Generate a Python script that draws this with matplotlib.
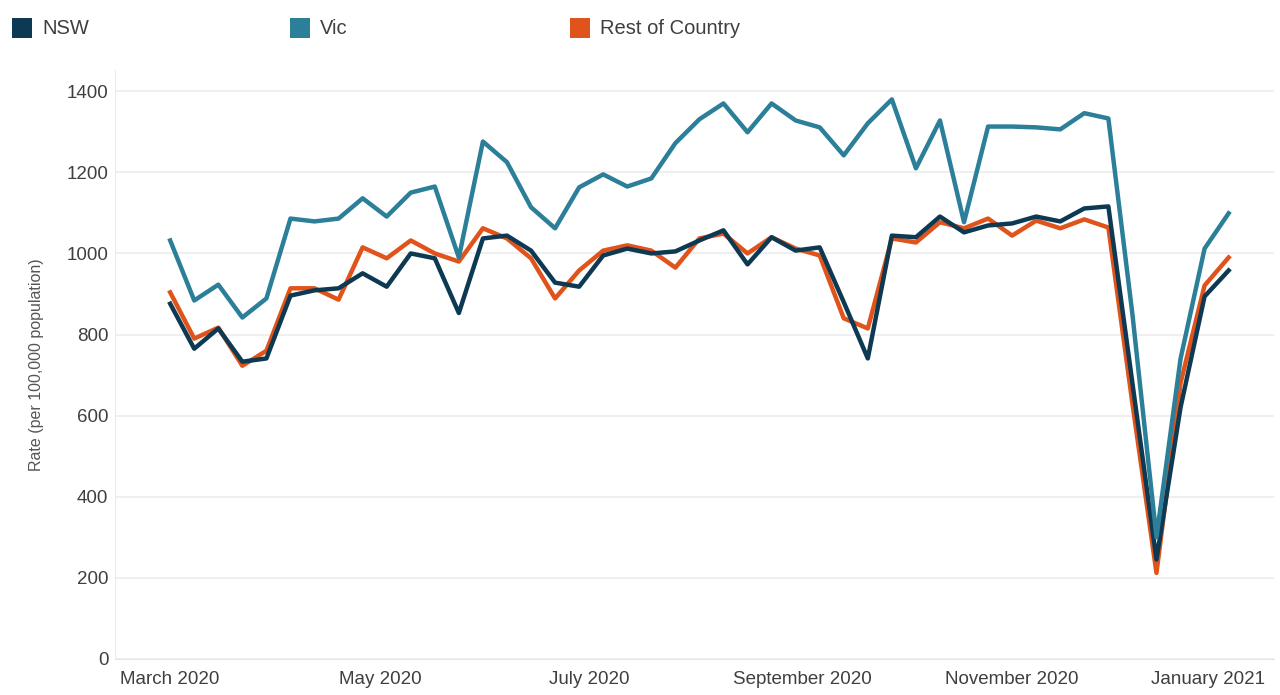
import numpy as np
import pandas as pd
import matplotlib
matplotlib.use("Agg")
import matplotlib.pyplot as plt
import matplotlib.dates as mdates
import matplotlib.transforms as mtransforms
from matplotlib.patches import Rectangle

plt.rcParams["font.family"] = ["Liberation Sans", "DejaVu Sans"]

# weekly data, 1 March 2020 to 3 January 2021
weeks = pd.date_range("2020-03-01", periods=45, freq="7D")

nsw = [876, 765, 815, 733, 741, 896, 909, 914, 951, 918,
       1000, 988, 853, 1037, 1044, 1007, 928, 918, 995, 1012,
       1000, 1005, 1032, 1057, 973, 1040, 1007, 1015, 880, 741,
       1044, 1040, 1091, 1052, 1069, 1074, 1091, 1079, 1111, 1116,
       680, 245, 620, 894, 958]

vic = [1032, 884, 923, 842, 889, 1086, 1079, 1086, 1136, 1091,
       1150, 1165, 990, 1276, 1225, 1114, 1062, 1163, 1195, 1165,
       1185, 1272, 1331, 1370, 1299, 1370, 1328, 1311, 1242, 1321,
       1380, 1210, 1328, 1077, 1313, 1313, 1311, 1306, 1346, 1333,
       850, 300, 740, 1012, 1099]

rest = [904, 790, 817, 723, 760, 914, 914, 886, 1015, 988,
        1032, 1000, 980, 1062, 1037, 988, 889, 958, 1007, 1020,
        1007, 965, 1037, 1049, 1000, 1040, 1012, 995, 840, 815,
        1037, 1027, 1077, 1062, 1086, 1044, 1081, 1062, 1084, 1064,
        630, 212, 680, 921, 990]

series_names = ["NSW", "Vic", "Rest of Country"]
colors = ["#0d3a52", "#2b7f98", "#e0531b"]

fig = plt.figure(figsize=(12.8, 6.95), dpi=100)
ax = fig.add_axes([0.09, 0.052, 0.905, 0.847])

# draw order: rest, nsw, vic on top
ax.plot(weeks, rest, color=colors[2], lw=3.2, zorder=3, solid_joinstyle="round")
ax.plot(weeks, nsw, color=colors[0], lw=3.2, zorder=4, solid_joinstyle="round")
ax.plot(weeks, vic, color=colors[1], lw=3.2, zorder=5, solid_joinstyle="round")

ax.set_ylim(0, 1452)
ax.set_yticks(np.arange(0, 1401, 200))
ax.set_xlim(pd.Timestamp("2020-02-14"), pd.Timestamp("2021-01-16 02:00"))
ax.xaxis.set_major_locator(mdates.MonthLocator(bymonth=[1, 3, 5, 7, 9, 11]))
ax.xaxis.set_major_formatter(mdates.DateFormatter("%B %Y"))

ax.grid(axis="y", color="#ececec", lw=1.2, zorder=0)
ax.set_axisbelow(True)
for s in ["top", "right"]:
    ax.spines[s].set_visible(False)
ax.spines["left"].set_color("#ececec")
ax.spines["bottom"].set_color("#e6e6e6")
ax.tick_params(axis="both", length=0, labelsize=13.5, labelcolor="#3f3f3f")
ax.tick_params(axis="y", pad=5)
ax.tick_params(axis="x", pad=9)

# last month label is pulled left so it stays inside the figure
fig.canvas.draw()
last_lbl = ax.get_xticklabels()[-1]
last_lbl.set_transform(last_lbl.get_transform() +
                       mtransforms.ScaledTranslation(-14 / 100, 0, fig.dpi_scale_trans))

ax.set_ylabel("Rate (per 100,000 population)", fontsize=11.5, color="#555555", labelpad=16)

# legend across the top
leg_x = [12, 290, 570]
for x0, name, c in zip(leg_x, series_names, colors):
    fig.add_artist(Rectangle((x0 / 1280, 1 - 38 / 695), 20 / 1280, 20 / 695,
                             transform=fig.transFigure, facecolor=c, edgecolor="none"))
    fig.text((x0 + 30) / 1280, 1 - 28 / 695, name, fontsize=14.5, color="#3f3f3f",
             va="center", ha="left")

fig.savefig("out.png", dpi=100, facecolor="white")
